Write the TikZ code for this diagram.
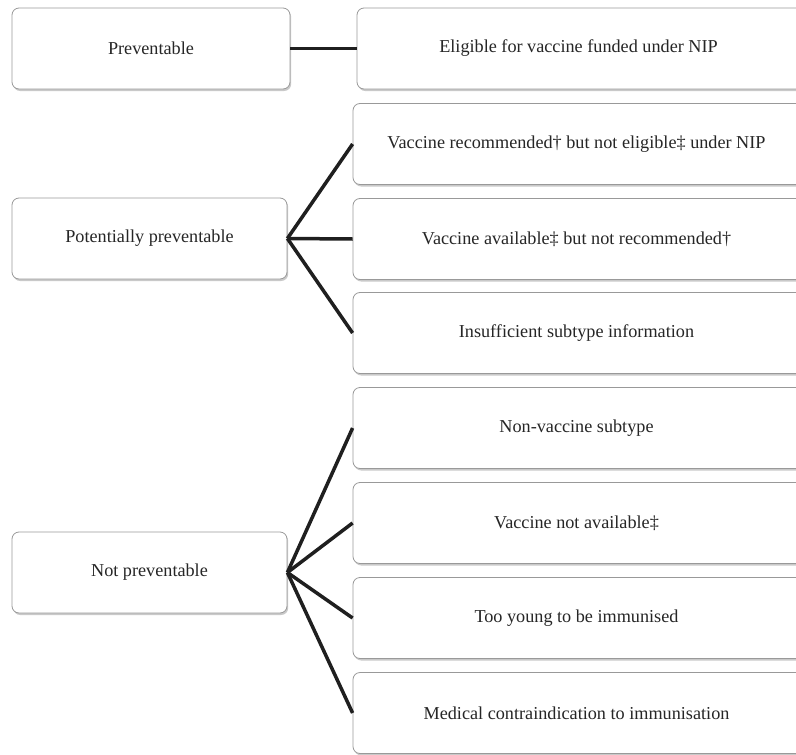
\documentclass[tikz,border=0pt]{standalone}
\usepackage{fontspec}
\setmainfont{Liberation Serif}
\usetikzlibrary{shadows}
\begin{document}
\begin{tikzpicture}[x=1pt,y=-1pt,
  cbox/.style={draw=black!40, line width=0.8pt, rounded corners=7pt, fill=white,
    drop shadow={shadow xshift=1.2pt, shadow yshift=-2pt, opacity=0.3, fill=black!70},
    font=\fontsize{18.2}{20}\selectfont, text=black!85, inner sep=0pt, minimum height=81pt},
  leftbox/.style={cbox, minimum width=275pt},
  rightbox/.style={cbox, minimum width=471pt, execute at end node={\hspace*{24pt}}},
  link/.style={line width=3.5pt, draw=black!88}]
\useasboundingbox (0,0) rectangle (796,755);
\clip (0,0) rectangle (796,755);
% left boxes
\node[leftbox, minimum width=278pt] (prev) at (151,48.5) {Preventable};
\node[leftbox] (pot) at (149.5,238.5) {Potentially preventable};
\node[leftbox] (notp) at (149.5,572.5) {Not preventable};
% right boxes
\node[rightbox, minimum width=467pt] (elig) at (590.5,48.5) {Eligible for vaccine funded under NIP};
\node[rightbox] (r1) at (588.5,144) {Vaccine recommended\textdagger{} but not eligible\textdaggerdbl{} under NIP};
\node[rightbox] (r2) at (588.5,239) {Vaccine available\textdaggerdbl{} but not recommended\textdagger};
\node[rightbox] (r3) at (588.5,333) {Insufficient subtype information};
\node[rightbox] (n1) at (588.5,428) {Non-vaccine subtype};
\node[rightbox] (n2) at (588.5,523) {Vaccine not available\textdaggerdbl};
\node[rightbox] (n3) at (588.5,618) {Too young to be immunised};
\node[rightbox] (n4) at (588.5,713) {Medical contraindication to immunisation};
% connectors
\draw[link] (prev.east) -- (elig.west);
\draw[link] (pot.east) -- (r1.west);
\draw[link] (pot.east) -- (r2.west);
\draw[link] (pot.east) -- (r3.west);
\draw[link] (notp.east) -- (n1.west);
\draw[link] (notp.east) -- (n2.west);
\draw[link] (notp.east) -- (n3.west);
\draw[link] (notp.east) -- (n4.west);
\end{tikzpicture}
\end{document}
